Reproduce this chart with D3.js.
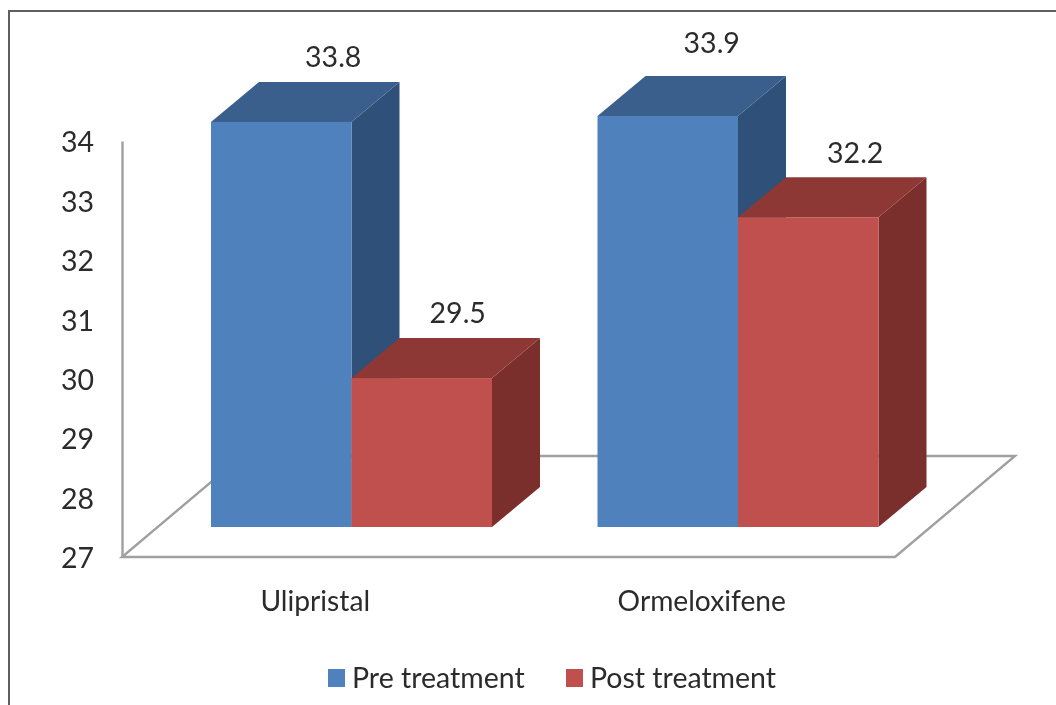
<!DOCTYPE html>
<html><head><meta charset="utf-8">
<script src="https://cdn.jsdelivr.net/npm/d3@7/dist/d3.min.js"></script>
<style>html,body{margin:0;padding:0;background:#fff;overflow:hidden}svg{display:block;filter:blur(0.7px)}text{font-family:Lato,"Open Sans",sans-serif;fill:#2b2b2b}</style>
</head><body><div id="chart"></div>
<script>
const categories = ["Ulipristal", "Ormeloxifene"];
const seriesNames = ["Pre treatment", "Post treatment"];
const preTreatment = [33.8, 33.9];
const postTreatment = [29.5, 32.2];
const tickValues = [27, 28, 29, 30, 31, 32, 33, 34];
const frontColors = ["#4F81BD", "#C0504D"];
const topColors = ["#3B5F8C", "#8E3836"];
const sideColors = ["#2F5078", "#7A2F2D"];

const W = 1056, H = 705;
const svg = d3.select("#chart").append("svg").attr("width", W).attr("height", H);

// frame (only top and left edges are visible)
svg.append("path").attr("d", `M9,${H + 5} V11 H${W + 5}`).attr("fill", "none").attr("stroke", "#5f5f5f").attr("stroke-width", 2);

const floorDx = 120, floorDy = -101, depthDx = 48, depthDy = -40;
const axisBase = 557, axisTop = 141, floorLeft = 122, floorRight = 895;

const yAxisScale = d3.scaleLinear().domain([27, 34]).range([axisBase, axisTop]);
const yBar = d3.scaleLinear().domain([27, 34]).range([527, 527 - 7 * 59.57]);
const xCat = d3.scaleBand().domain(categories).range([floorLeft, floorRight]);
const barGroupOffset = 89, barW = 140.5;
const xSeries = d3.scaleBand().domain(seriesNames).range([0, barW * 2]);

// floor
svg.append("path")
  .attr("d", d3.line()([[floorLeft, axisBase], [floorRight, axisBase], [floorRight + floorDx, axisBase + floorDy], [floorLeft + floorDx, axisBase + floorDy]]) + "Z")
  .attr("fill", "none").attr("stroke", "#a0a0a0").attr("stroke-width", 2.4);

// y axis
const yAxis = d3.axisLeft(yAxisScale).tickValues(tickValues).tickSize(0).tickPadding(28).tickFormat(d3.format("d"));
const yG = svg.append("g").attr("transform", `translate(${floorLeft},1.6)`).call(yAxis);
yG.select(".domain").attr("stroke", "#a0a0a0").attr("stroke-width", 2.4).attr("transform", "translate(0,-1.6)");
yG.selectAll("text").attr("font-size", 28.5).style("font-family", "Lato").attr("fill", "#2b2b2b");

// x labels
const xAxis = d3.axisBottom(xCat).tickSize(0).tickPadding(34);
const xG = svg.append("g").attr("transform", `translate(0,${axisBase})`).call(xAxis);
xG.select(".domain").remove();
xG.selectAll("text").attr("font-size", 28.2).style("font-family", "Lato").attr("fill", "#2b2b2b");

// bars
const rows = [];
seriesNames.forEach((s, si) => categories.forEach((c, ci) => {
  rows.push({ s, si, c, ci, v: (si === 0 ? preTreatment : postTreatment)[ci] });
}));
const labelNudge = { "0-0": [52, -65], "0-1": [44, -73], "1-0": [36, -65], "1-1": [47, -64] };
const poly = d3.line();
rows.forEach(d => {
  const x0 = xCat(d.c) + barGroupOffset + xSeries(d.s), x1 = x0 + barW;
  const yT = yBar(d.v), yB = yBar(27);
  const g = svg.append("g");
  g.append("path").attr("fill", sideColors[d.si])
    .attr("d", poly([[x1, yT], [x1 + depthDx, yT + depthDy], [x1 + depthDx, yB + depthDy], [x1, yB]]) + "Z");
  g.append("path").attr("fill", topColors[d.si])
    .attr("d", poly([[x0, yT], [x0 + depthDx, yT + depthDy], [x1 + depthDx, yT + depthDy], [x1, yT]]) + "Z");
  g.append("rect").attr("x", x0).attr("y", yT).attr("width", barW).attr("height", yB - yT).attr("fill", frontColors[d.si]);
});
rows.forEach(d => {
  const x0 = xCat(d.c) + barGroupOffset + xSeries(d.s);
  const n = labelNudge[d.si + "-" + d.ci];
  svg.append("text").attr("x", x0 + barW / 2 + n[0]).attr("y", yBar(d.v) + n[1])
    .attr("text-anchor", "middle").attr("dy", "0.35em").attr("font-size", 28.5).text(d3.format(".1f")(d.v));
});

// legend
const legendSwatch = [328, 566];
seriesNames.forEach((s, i) => {
  svg.append("rect").attr("x", legendSwatch[i]).attr("y", 669).attr("width", 17).attr("height", 18).attr("fill", frontColors[i]);
  svg.append("text").attr("x", legendSwatch[i] + 24).attr("y", 678).attr("dy", "0.35em").attr("font-size", 28.5).text(s);
});
</script></body></html>
